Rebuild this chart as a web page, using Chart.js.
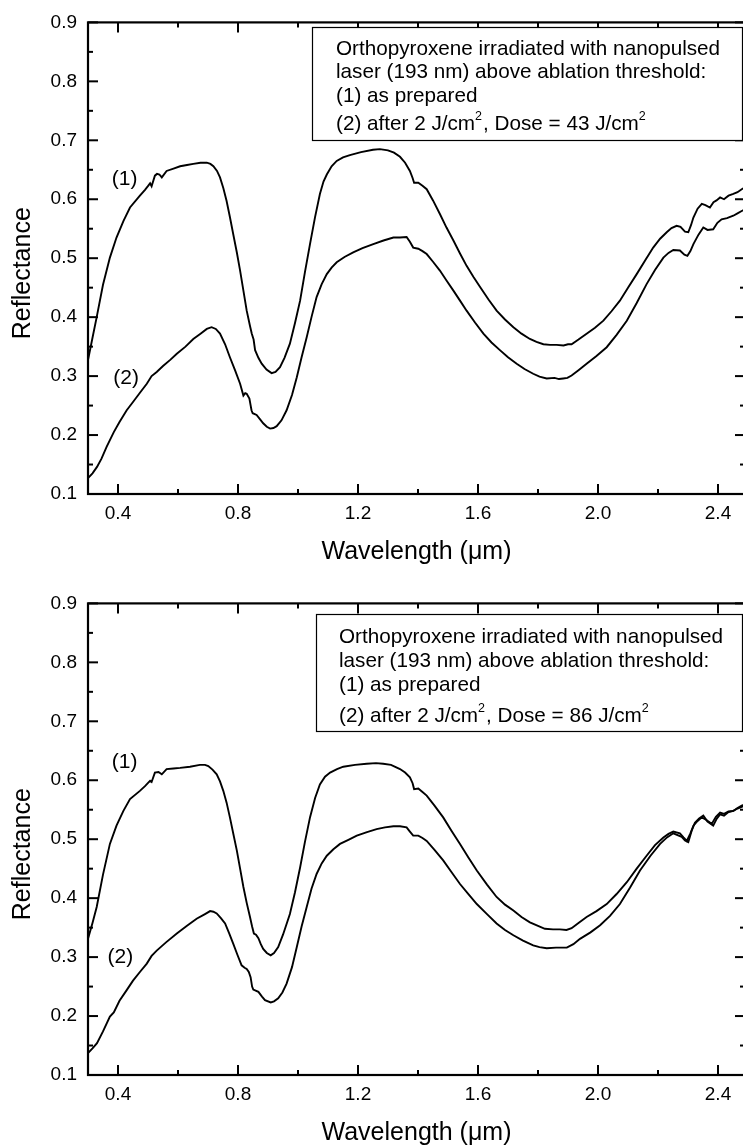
<!DOCTYPE html>
<html><head><meta charset="utf-8">
<script src="https://cdn.jsdelivr.net/npm/chart.js@4/dist/chart.umd.min.js"></script>
<style>
html,body{margin:0;padding:0;background:#fff;overflow:hidden;width:743px;height:1146px;position:relative}
.wrap{position:absolute;left:0;width:760px;overflow:hidden}
canvas{display:block}
</style></head><body>
<div class="wrap" style="top:0;height:581px"><canvas id="c1" width="760" height="581" style="width:760px;height:581px"></canvas></div>
<div class="wrap" style="top:581px;height:565px"><canvas id="c2" width="760" height="565" style="width:760px;height:565px"></canvas></div>
<script>
// ---- tick labels ----
const xTicks = [0.4, 0.8, 1.2, 1.6, 2.0, 2.4];
const xMinor = [0.6, 1.0, 1.4, 1.8, 2.2];
const yTicks = [0.1, 0.2, 0.3, 0.4, 0.5, 0.6, 0.7, 0.8, 0.9];
const yMinor = [0.15, 0.25, 0.35, 0.45, 0.55, 0.65, 0.75, 0.85];

// ---- top panel: curve (1) as prepared ----
const topWl1 = [0.300,0.315,0.329,0.350,0.373,0.395,0.418,0.440,0.473,0.490,0.501,0.507,0.512,0.523,0.530,0.538,0.546,0.562,0.585,0.607,0.630,0.651,0.675,0.696,0.708,0.718,0.730,0.740,0.751,0.762,0.773,0.784,0.796,0.807,0.818,0.829,0.840,0.846,0.852,0.857,0.868,0.879,0.895,0.912,0.925,0.940,0.955,0.973,0.990,1.007,1.023,1.040,1.057,1.073,1.085,1.096,1.112,1.129,1.150,1.173,1.210,1.250,1.273,1.300,1.320,1.340,1.357,1.373,1.382,1.387,1.395,1.401,1.415,1.429,1.450,1.473,1.495,1.518,1.540,1.562,1.585,1.607,1.635,1.662,1.690,1.718,1.745,1.773,1.795,1.818,1.840,1.862,1.885,1.900,1.912,1.935,1.962,1.990,2.018,2.045,2.073,2.100,2.129,2.157,2.184,2.207,2.229,2.245,2.262,2.275,2.290,2.301,2.310,2.318,2.332,2.346,2.358,2.373,2.385,2.395,2.407,2.420,2.435,2.451,2.465,2.479,2.490];
const topR1 = [0.327,0.365,0.400,0.455,0.501,0.535,0.563,0.586,0.606,0.616,0.623,0.627,0.622,0.640,0.643,0.642,0.637,0.648,0.652,0.656,0.658,0.660,0.662,0.662,0.660,0.656,0.648,0.637,0.619,0.597,0.570,0.541,0.510,0.479,0.445,0.411,0.385,0.372,0.362,0.344,0.331,0.321,0.311,0.305,0.307,0.315,0.331,0.355,0.390,0.428,0.476,0.524,0.570,0.609,0.630,0.642,0.656,0.665,0.671,0.675,0.680,0.684,0.685,0.683,0.679,0.672,0.662,0.648,0.636,0.628,0.628,0.628,0.623,0.617,0.598,0.575,0.552,0.530,0.508,0.487,0.468,0.451,0.430,0.411,0.396,0.383,0.372,0.363,0.358,0.354,0.353,0.353,0.352,0.354,0.354,0.362,0.372,0.382,0.394,0.410,0.428,0.450,0.473,0.496,0.518,0.533,0.544,0.551,0.555,0.553,0.545,0.544,0.556,0.569,0.584,0.592,0.590,0.586,0.595,0.598,0.603,0.600,0.606,0.609,0.612,0.617,0.620];

// ---- top panel: curve (2) after irradiation, dose 43 J/cm2 ----
const topWl2 = [0.300,0.315,0.330,0.345,0.362,0.386,0.405,0.429,0.450,0.475,0.496,0.512,0.529,0.550,0.575,0.596,0.625,0.651,0.675,0.696,0.712,0.726,0.740,0.757,0.773,0.790,0.807,0.818,0.824,0.829,0.838,0.845,0.849,0.862,0.873,0.884,0.896,0.907,0.918,0.929,0.945,0.962,0.980,0.996,1.012,1.029,1.045,1.062,1.079,1.096,1.112,1.129,1.155,1.184,1.215,1.251,1.285,1.318,1.340,1.362,1.373,1.384,1.401,1.415,1.429,1.450,1.473,1.495,1.518,1.540,1.562,1.590,1.618,1.645,1.673,1.700,1.729,1.755,1.784,1.805,1.829,1.855,1.870,1.884,1.898,1.912,1.935,1.962,1.995,2.029,2.062,2.096,2.129,2.162,2.190,2.218,2.235,2.251,2.273,2.288,2.298,2.308,2.318,2.335,2.351,2.365,2.384,2.398,2.412,2.430,2.451,2.465,2.479,2.490];
const topR2 = [0.127,0.135,0.146,0.160,0.180,0.205,0.222,0.242,0.256,0.273,0.287,0.300,0.307,0.317,0.328,0.338,0.350,0.363,0.372,0.380,0.383,0.380,0.372,0.354,0.332,0.310,0.287,0.267,0.271,0.270,0.262,0.242,0.237,0.234,0.227,0.220,0.214,0.211,0.212,0.215,0.225,0.242,0.268,0.298,0.332,0.366,0.400,0.434,0.456,0.473,0.484,0.493,0.502,0.510,0.517,0.524,0.530,0.535,0.535,0.536,0.528,0.518,0.516,0.512,0.507,0.494,0.479,0.462,0.445,0.428,0.411,0.391,0.372,0.357,0.344,0.332,0.321,0.312,0.304,0.299,0.296,0.297,0.295,0.296,0.297,0.301,0.310,0.321,0.334,0.349,0.370,0.394,0.424,0.456,0.480,0.501,0.509,0.514,0.513,0.506,0.504,0.512,0.524,0.540,0.552,0.548,0.549,0.560,0.566,0.568,0.572,0.576,0.580,0.583];

// ---- bottom panel: curve (1) as prepared ----
const botWl1 = [0.300,0.315,0.329,0.350,0.373,0.395,0.418,0.440,0.473,0.490,0.501,0.507,0.512,0.523,0.535,0.546,0.562,0.585,0.607,0.640,0.673,0.690,0.701,0.715,0.729,0.740,0.751,0.762,0.773,0.784,0.796,0.807,0.818,0.829,0.840,0.847,0.853,0.860,0.868,0.876,0.884,0.896,0.909,0.920,0.934,0.950,0.973,0.990,1.007,1.023,1.040,1.057,1.073,1.090,1.107,1.130,1.151,1.190,1.229,1.260,1.284,1.310,1.340,1.357,1.373,1.382,1.387,1.401,1.415,1.429,1.455,1.484,1.512,1.540,1.568,1.596,1.630,1.662,1.690,1.718,1.745,1.773,1.800,1.823,1.850,1.873,1.895,1.912,1.935,1.962,1.995,2.029,2.062,2.096,2.129,2.162,2.190,2.218,2.235,2.251,2.273,2.285,2.296,2.308,2.318,2.332,2.346,2.360,2.379,2.393,2.407,2.420,2.435,2.451,2.465,2.479,2.490];
const botR1 = [0.331,0.358,0.385,0.440,0.492,0.523,0.548,0.568,0.582,0.590,0.596,0.599,0.597,0.613,0.614,0.610,0.619,0.620,0.621,0.623,0.626,0.626,0.624,0.618,0.610,0.598,0.582,0.562,0.537,0.510,0.481,0.450,0.419,0.392,0.368,0.352,0.340,0.338,0.332,0.322,0.314,0.307,0.303,0.307,0.317,0.338,0.373,0.410,0.452,0.495,0.537,0.570,0.593,0.606,0.613,0.619,0.623,0.626,0.628,0.629,0.628,0.626,0.619,0.613,0.605,0.595,0.585,0.586,0.580,0.574,0.557,0.537,0.514,0.492,0.469,0.447,0.423,0.402,0.389,0.379,0.368,0.359,0.353,0.348,0.347,0.347,0.346,0.349,0.358,0.368,0.378,0.390,0.407,0.427,0.450,0.472,0.490,0.503,0.509,0.513,0.510,0.503,0.497,0.510,0.523,0.531,0.537,0.533,0.526,0.538,0.545,0.543,0.547,0.548,0.552,0.555,0.557];

// ---- bottom panel: curve (2) after irradiation, dose 86 J/cm2 ----
const botWl2 = [0.300,0.315,0.330,0.350,0.373,0.386,0.405,0.429,0.450,0.475,0.496,0.512,0.529,0.560,0.596,0.630,0.662,0.690,0.707,0.718,0.729,0.743,0.757,0.770,0.784,0.798,0.812,0.822,0.829,0.836,0.842,0.847,0.851,0.868,0.880,0.890,0.909,0.920,0.934,0.948,0.962,0.980,0.996,1.012,1.029,1.045,1.062,1.079,1.096,1.118,1.140,1.168,1.196,1.230,1.262,1.290,1.318,1.340,1.362,1.373,1.384,1.401,1.415,1.429,1.455,1.484,1.512,1.540,1.568,1.596,1.630,1.662,1.690,1.718,1.750,1.784,1.805,1.829,1.860,1.896,1.918,1.940,1.975,2.007,2.040,2.073,2.107,2.140,2.175,2.207,2.230,2.251,2.279,2.290,2.301,2.312,2.323,2.337,2.351,2.365,2.384,2.396,2.407,2.420,2.435,2.451,2.465,2.479,2.490];
const botR2 = [0.137,0.145,0.154,0.174,0.199,0.206,0.226,0.244,0.260,0.276,0.289,0.302,0.311,0.325,0.340,0.353,0.365,0.373,0.378,0.377,0.374,0.366,0.357,0.341,0.323,0.304,0.286,0.282,0.280,0.275,0.266,0.250,0.245,0.241,0.233,0.227,0.223,0.225,0.230,0.240,0.255,0.283,0.317,0.352,0.385,0.416,0.441,0.459,0.472,0.483,0.492,0.499,0.506,0.512,0.517,0.520,0.522,0.522,0.520,0.513,0.506,0.506,0.502,0.497,0.482,0.464,0.444,0.424,0.407,0.390,0.373,0.357,0.346,0.337,0.328,0.320,0.317,0.315,0.316,0.316,0.322,0.331,0.342,0.354,0.370,0.390,0.418,0.447,0.472,0.492,0.503,0.510,0.504,0.498,0.495,0.514,0.528,0.535,0.540,0.530,0.523,0.535,0.542,0.540,0.546,0.548,0.553,0.557,0.559];

// ---- texts ----
const legendHead = ["Orthopyroxene irradiated with nanopulsed", "laser (193 nm) above ablation threshold:", "(1) as prepared"];
const topDose = "43";
const botDose = "86";
const curveLabels = ["(1)", "(2)"];
const xTitle = "Wavelength (\u03bcm)";
const yTitle = "Reflectance";

const FONT = "'Liberation Sans', Arial, Helvetica, sans-serif";

function pairs(xs, ys) { return xs.map((x, i) => ({x: x, y: ys[i]})); }

function makeChart(canvasId, wl1, r1, wl2, r2, dose, layoutCfg) {
  const deco = {
    id: 'deco',
    afterDraw(chart) {
      const ctx = chart.ctx, a = chart.chartArea, xs = chart.scales.x, ys = chart.scales.y;
      ctx.save();
      ctx.strokeStyle = '#000';
      ctx.lineCap = 'butt';
      ctx.lineWidth = 2;
      const seg = (x1, y1, x2, y2) => { ctx.beginPath(); ctx.moveTo(x1, y1); ctx.lineTo(x2, y2); ctx.stroke(); };
      xTicks.forEach(v => { const p = xs.getPixelForValue(v); seg(p, a.bottom, p, a.bottom - 10); seg(p, a.top, p, a.top + 10); });
      xMinor.forEach(v => { const p = xs.getPixelForValue(v); seg(p, a.bottom, p, a.bottom - 5); seg(p, a.top, p, a.top + 5); });
      yTicks.forEach(v => { const p = ys.getPixelForValue(v); seg(a.left, p, a.left + 10, p); seg(a.right, p, a.right - 10, p); });
      yMinor.forEach(v => { const p = ys.getPixelForValue(v); seg(a.left, p, a.left + 5, p); seg(a.right, p, a.right - 5, p); });
      ctx.lineWidth = 2.2;
      ctx.strokeRect(a.left, a.top, a.right - a.left, a.bottom - a.top);
      ctx.fillStyle = '#000';
      ctx.font = '25px ' + FONT;
      ctx.textAlign = 'center';
      ctx.textBaseline = 'middle';
      ctx.fillText(xTitle, (a.left + a.right) / 2, a.bottom + 58);
      ctx.save();
      ctx.translate(23, (a.top + a.bottom) / 2 + 15);
      ctx.rotate(-Math.PI / 2);
      ctx.fillText(yTitle, 0, 0);
      ctx.restore();
      ctx.font = '21px ' + FONT;
      layoutCfg.labels.forEach((lp, i) => {
        ctx.fillText(curveLabels[i], xs.getPixelForValue(lp[0]), ys.getPixelForValue(lp[1]));
      });
      const b = layoutCfg.box;
      ctx.fillStyle = '#fff';
      ctx.fillRect(b.l, b.t, b.r - b.l, b.b - b.t);
      ctx.lineWidth = 1.2;
      ctx.strokeStyle = '#000';
      ctx.strokeRect(b.l + 0.5, b.t + 0.5, b.r - b.l, b.b - b.t);
      ctx.fillStyle = '#000';
      ctx.textAlign = 'left';
      ctx.textBaseline = 'alphabetic';
      ctx.font = '20.7px ' + FONT;
      legendHead.forEach((t, i) => ctx.fillText(t, b.tx, b.lines[i]));
      let x = b.tx; const yb = b.lines[3];
      const parts = [["(2) after 2 J/cm", false], ["2", true], [", Dose = " + dose + " J/cm", false], ["2", true]];
      parts.forEach(p => {
        ctx.font = (p[1] ? '12.5px ' : '20.7px ') + FONT;
        ctx.fillText(p[0], x, p[1] ? yb - 10 : yb);
        x += ctx.measureText(p[0]).width + (p[1] ? 1 : 0);
      });
      ctx.restore();
    }
  };

  return new Chart(document.getElementById(canvasId), {
    type: 'line',
    data: {
      datasets: [
        {data: pairs(wl1, r1), borderColor: '#000', borderWidth: 1.9, pointRadius: 0, tension: 0, fill: false},
        {data: pairs(wl2, r2), borderColor: '#000', borderWidth: 1.9, pointRadius: 0, tension: 0, fill: false}
      ]
    },
    options: {
      responsive: false,
      animation: false,
      events: [],
      layout: {padding: {left: 0, right: 15, top: 21, bottom: 0}},
      plugins: {legend: {display: false}, tooltip: {enabled: false}},
      scales: {
        x: {
          type: 'linear', min: 0.3, max: 2.49,
          afterBuildTicks: s => { s.ticks = xTicks.map(v => ({value: v})); },
          afterFit: s => { s.height = layoutCfg.bottomSpace; },
          grid: {display: false, drawTicks: false},
          border: {display: false},
          ticks: {color: '#000', padding: 8, maxRotation: 0, autoSkip: false,
                  font: {family: FONT, size: 19}, callback: v => Number(v).toFixed(1)}
        },
        y: {
          type: 'linear', min: 0.1, max: 0.9,
          afterBuildTicks: s => { s.ticks = yTicks.map(v => ({value: v})); },
          afterFit: s => { s.width = 88; },
          grid: {display: false, drawTicks: false},
          border: {display: false},
          ticks: {color: '#000', padding: 11, autoSkip: false,
                  font: {family: FONT, size: 19}, callback: v => Number(v).toFixed(1)}
        }
      }
    },
    plugins: [deco]
  });
}

makeChart('c1', topWl1, topR1, topWl2, topR2, topDose, {
  bottomSpace: 87,
  labels: [[0.422, 0.634], [0.427, 0.297]],
  box: {l: 312, t: 27, r: 742, b: 140, tx: 336, lines: [55, 78, 102, 130]}
});
makeChart('c2', botWl1, botR1, botWl2, botR2, botDose, {
  bottomSpace: 71,
  labels: [[0.422, 0.631], [0.408, 0.299]],
  box: {l: 316, t: 33, r: 742, b: 150, tx: 339, lines: [62, 86, 110, 141]}
});
</script>
</body></html>
